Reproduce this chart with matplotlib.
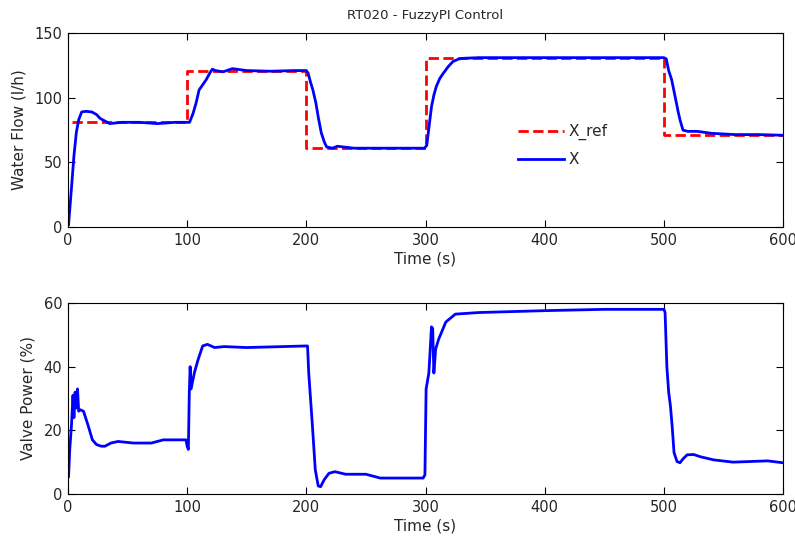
import matplotlib
matplotlib.use("Agg")
import matplotlib.pyplot as plt
import numpy as np

plt.rcParams['font.family'] = ['DejaVu Sans']

# reference steps (time, value)
ref_t = [3, 100, 100, 200, 200, 300, 300, 500, 500, 600]
ref_v = [81, 81, 121, 121, 61, 61, 131, 131, 71, 71]

# measured water flow
flow_t = [0.5, 3, 5, 7, 9, 11.5, 15, 20, 24, 27, 31, 35, 45, 60, 75, 90, 100,
          102, 105, 107.5, 110, 113, 116, 119, 121, 124, 130, 138, 150, 170, 190, 200,
          201.5, 203.5, 205.5, 208, 210, 212.5, 215, 217, 222, 226, 240, 270, 299,
          301, 303, 305, 307, 309, 312, 315, 319, 323, 328, 332, 345, 380, 420, 460, 500,
          502, 504, 506.5, 508.5, 510.5, 512, 513.5, 516, 520, 528, 540, 560, 580, 600]
flow_v = [2, 31, 55, 73, 83, 89, 89.5, 89, 87, 84, 82, 80, 81, 81, 80, 81, 81,
          81, 88, 96, 106, 110, 114, 119, 122, 121, 120, 122.5, 121, 120.5, 121, 121,
          119, 112, 106, 96, 85, 73, 66, 62, 61, 62.5, 61, 61, 61,
          63, 78, 93, 102, 108.6, 115, 119, 124, 128, 130, 130.5, 131, 131, 131, 131, 131,
          130, 121, 114, 105, 96, 89, 83, 75, 74, 74, 72.5, 71.5, 71.5, 71]

# valve power
valve_t = [0.5, 1.5, 3, 4.2, 5, 6, 7, 8, 9, 10, 13, 16.5, 20.5, 24, 28, 31, 36, 42,
           55, 70, 80, 95, 99, 100, 101, 101.8, 102.5, 103.3, 106, 109, 113, 117, 123, 131, 150, 200,
           201, 202, 203.5, 205, 207.5, 210, 212, 215, 219, 224, 233, 250, 262, 298,
           299.5, 300.5, 302.8, 305, 306, 307, 308.5, 311, 317, 325, 345, 401, 450, 500,
           501, 502.5, 504, 505.5, 507, 508.5, 511, 513.5, 516, 519.5, 525, 530.5, 542, 558, 587, 600]
valve_v = [5.5, 14, 22, 31, 24, 32, 27, 33, 26, 26.5, 26, 22, 17, 15.5, 15, 15, 16, 16.5,
           16, 16, 17, 17, 17, 15, 14, 32, 40, 33, 38, 42, 46.5, 47, 46, 46.3, 46, 46.5,
           46.5, 38, 30, 22, 7.6, 2.5, 2.3, 4.5, 6.5, 7, 6.2, 6.2, 5, 5,
           6, 33, 38, 52.5, 52, 38, 45.5, 48.6, 54, 56.5, 57, 57.6, 58, 58,
           57, 40, 32, 27.6, 21, 13, 10.2, 9.8, 11, 12.3, 12.4, 11.7, 10.7, 10, 10.4, 9.8]

txt = '#262626'

fig = plt.figure(figsize=(7.95, 5.42), dpi=100)
ax1 = fig.add_axes([0.0855, 0.581, 0.8995, 0.358])
ax2 = fig.add_axes([0.0855, 0.0886, 0.8995, 0.3524])

ax1.plot(ref_t, ref_v, 'r--', lw=2, label='X_ref')
ax1.plot(flow_t, flow_v, 'b-', lw=2, label='X')
ax1.set_xlim(0, 600)
ax1.set_ylim(0, 150)
ax1.set_yticks([0, 50, 100, 150])
ax1.set_xlabel('Time (s)', fontsize=11, labelpad=3, color=txt)
ax1.set_ylabel('Water Flow (l/h)', fontsize=11, labelpad=6, color=txt)
ax1.set_title('RT020 - FuzzyPI Control', fontsize=9.5, pad=10, color=txt)
leg = ax1.legend(loc='center left', bbox_to_anchor=(0.61, 0.42), frameon=False,
                 fontsize=11, handlelength=3, labelspacing=0.75, handletextpad=0.3)
for t in leg.get_texts():
    t.set_color(txt)

ax2.plot(valve_t, valve_v, 'b-', lw=2)
ax2.set_xlim(0, 600)
ax2.set_ylim(0, 60)
ax2.set_yticks([0, 20, 40, 60])
ax2.set_xlabel('Time (s)', fontsize=11, labelpad=3, color=txt)
ax2.set_ylabel('Valve Power (%)', fontsize=11, labelpad=6, color=txt)

for ax in (ax1, ax2):
    ax.set_xticks([0, 100, 200, 300, 400, 500, 600])
    ax.tick_params(direction='in', top=True, right=True, length=5, labelsize=10.5,
                   pad=4, labelcolor=txt)
    for s in ax.spines.values():
        s.set_linewidth(0.8)

plt.savefig('out.png', dpi=100)
